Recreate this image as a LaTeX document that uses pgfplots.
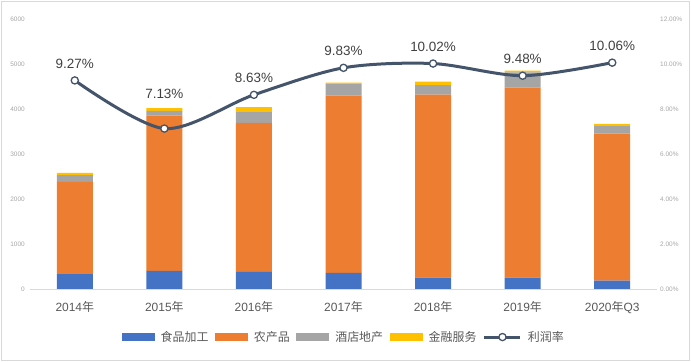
\documentclass[border=0pt]{standalone}
\usepackage{pgfplots}
\usepackage{pgfplotstable}
\pgfplotsset{compat=1.18}
\usepackage{fontspec}
\setmainfont{Liberation Sans}
\newfontfamily\cjk{Noto Sans CJK SC}
\definecolor{cblue}{HTML}{4472C4}
\definecolor{corange}{HTML}{ED7D31}
\definecolor{cgray}{HTML}{A5A5A5}
\definecolor{cyellow}{HTML}{FFC000}
\definecolor{cline}{HTML}{44546A}
\definecolor{frameC}{HTML}{D9D9D9}
\definecolor{tickC}{HTML}{A6A6A6}
\definecolor{labC}{HTML}{595959}
\definecolor{dataC}{HTML}{404040}

\pgfplotstableread{
x food agri hotel fin
0 333 2045 155 45
1 400 3451 105 66
2 378 3311 244 111
3 356 3940 267 22
4 252 4067 214 74
5 252 4222 341 37
6 185 3267 170 45
}\bars

\pgfplotstableread{
x rate
0 9.27
1 7.13
2 8.63
3 9.83
4 10.02
5 9.48
6 10.06
}\rates

\pgfplotstableread{
x rate
0 9.27
2 8.63
3 9.83
4 10.02
5 9.48
6 10.06
}\ratesA

\pgfplotstableread{
x rate
1 7.13
}\ratesB

\begin{document}
\begin{tikzpicture}
\useasboundingbox (0,0) rectangle (691bp,362bp);
\draw[color=frameC, line width=0.9bp] (1.5bp,1.5bp) rectangle (689.5bp,360.5bp);
\begin{axis}[
  at={(30bp,73bp)}, anchor=south west,
  scale only axis, width=627bp, height=270bp,
  xmin=-0.5, xmax=6.5, ymin=0, ymax=6000,
  ybar stacked, bar width=36bp,
  axis x line*=bottom, axis y line*=left,
  x axis line style={color=frameC, line width=0.9bp, -},
  y axis line style={draw=none},
  tick style={draw=none},
  xtick={0,...,6},
  xticklabels={2014{\cjk 年},2015{\cjk 年},2016{\cjk 年},2017{\cjk 年},2018{\cjk 年},2019{\cjk 年},2020{\cjk 年}Q3},
  xticklabel style={font=\fontsize{12}{12}\selectfont, text=labC, anchor=north, yshift=-8.5bp},
  ytick={0,1000,...,6000},
  yticklabel style={font=\fontsize{6.5}{7}\selectfont, text=tickC, anchor=east, inner sep=0pt, xshift=-5bp},
  scaled y ticks=false,
  /pgf/number format/1000 sep={},
  /pgf/number format/assume math mode=true,
  legend columns=5,
  legend style={at={(0.5,-0.178)}, anchor=center, draw=none, fill=none,
    font=\fontsize{12}{12}\selectfont\cjk, text=labC,
    /tikz/every odd column/.append style={column sep=4.5bp},
    /tikz/every even column/.append style={column sep=5bp},
    nodes={inner sep=1.5bp}},
  area legend,
  legend image code/.code={\fill[#1] (0bp,-4bp) rectangle (33bp,4bp);},
]
\addplot[fill=cblue, draw=none] table[x=x, y=food] {\bars};
\addlegendentry{食品加工}
\addplot[fill=corange, draw=none] table[x=x, y=agri] {\bars};
\addlegendentry{农产品}
\addplot[fill=cgray, draw=none] table[x=x, y=hotel] {\bars};
\addlegendentry{酒店地产}
\addplot[fill=cyellow, draw=none] table[x=x, y=fin] {\bars};
\addlegendentry{金融服务}
\addlegendimage{legend image code/.code={
  \draw[cline, line width=3bp] (0bp,0bp) -- (36bp,0bp);
  \draw[cline, fill=white, line width=1.3bp] (18bp,0bp) circle (3.6bp);}}
\addlegendentry{利润率}
\end{axis}
\begin{axis}[
  at={(30bp,73bp)}, anchor=south west,
  scale only axis, width=627bp, height=270bp,
  xmin=-0.5, xmax=6.5, ymin=0, ymax=12,
  axis x line=none, axis y line*=right,
  y axis line style={draw=none},
  tick style={draw=none},
  ytick={0,2,...,12},
  yticklabel={\pgfmathprintnumber[fixed,fixed zerofill,precision=2]{\tick}\%},
  yticklabel style={font=\fontsize{6.5}{7}\selectfont, text=tickC, anchor=west, inner sep=0pt, xshift=3bp},
  /pgf/number format/assume math mode=true,
  clip=false,
  nodes near coords={\pgfmathprintnumber[fixed,fixed zerofill,precision=2]{\pgfplotspointmeta}\%},
  nodes near coords style={anchor=center, text=dataC, font=\fontsize{13.5}{14}\selectfont},
]
\addplot[cline, line width=3bp, smooth, tension=0.5,
  mark=*, mark size=3.6bp, mark options={fill=white, draw=cline, line width=1.3bp},
  nodes near coords=\relax] table[x=x, y=rate] {\rates};
\addplot[draw=none, mark=none, point meta=y,
  nodes near coords style={yshift=17bp}] table[x=x, y=rate] {\ratesA};
\addplot[draw=none, mark=none, point meta=y,
  nodes near coords style={yshift=35bp}] table[x=x, y=rate] {\ratesB};
\end{axis}
\end{tikzpicture}
\end{document}
